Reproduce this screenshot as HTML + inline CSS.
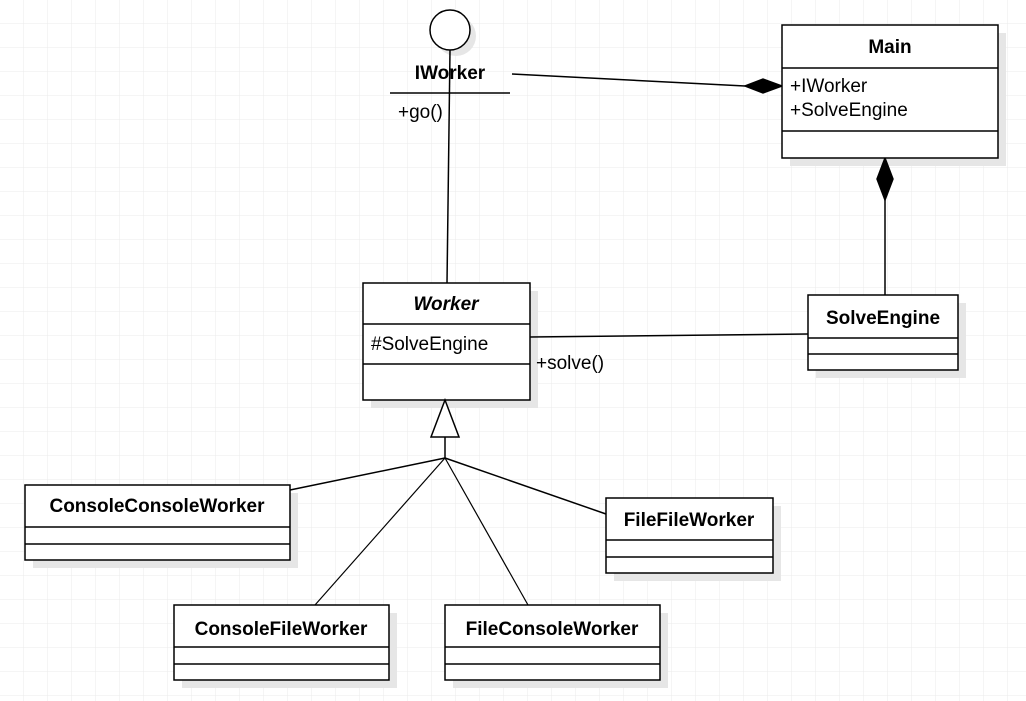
<!DOCTYPE html>
<html><head><style>
html,body{margin:0;padding:0;background:#fff;}
svg{display:block;}
text{font-family:"Liberation Sans",sans-serif;font-size:19px;fill:#000;}
.b{font-weight:bold;}
</style></head><body>
<svg width="1026" height="701" xmlns="http://www.w3.org/2000/svg">
<defs>
<pattern id="g" width="24" height="24" patternUnits="userSpaceOnUse">
<path d="M24 0V24M0 24H24" stroke="#ebebeb" stroke-width="1" fill="none"/>
</pattern>
</defs>
<rect width="1026" height="701" fill="url(#g)"/>
<g fill="#e6e6e6">
<rect x="790" y="33" width="216" height="133"/>
<rect x="816" y="303" width="150" height="75"/>
<rect x="371" y="291" width="167" height="117"/>
<rect x="33" y="493" width="265" height="75"/>
<rect x="614" y="506" width="167" height="75"/>
<rect x="182" y="613" width="215" height="75"/>
<rect x="453" y="613" width="215" height="75"/>
<circle cx="456" cy="36" r="20"/>
</g>
<g stroke="#000" stroke-width="1.5" fill="#fff">
<circle cx="450" cy="30" r="20"/>
<line x1="390" y1="93" x2="510" y2="93"/>
<line x1="450" y1="50" x2="447" y2="283"/>
<line x1="512" y1="74" x2="745" y2="86"/>
<polygon points="745,86 763,79 782,86 763,93" fill="#000"/>
<polygon points="885,158 893,179 885,200 877,179" fill="#000"/>
<line x1="885" y1="200" x2="885" y2="295"/>
<line x1="530" y1="337" x2="808" y2="334"/>
<rect x="782" y="25" width="216" height="133"/>
<line x1="782" y1="68" x2="998" y2="68"/><line x1="782" y1="131" x2="998" y2="131"/>
<rect x="808" y="295" width="150" height="75"/>
<line x1="808" y1="338" x2="958" y2="338"/><line x1="808" y1="354" x2="958" y2="354"/>
<rect x="363" y="283" width="167" height="117"/>
<line x1="363" y1="324" x2="530" y2="324"/><line x1="363" y1="364" x2="530" y2="364"/>
<polygon points="445,400 459,437 431,437"/>
<line x1="445" y1="437" x2="445" y2="458"/>
<line x1="445" y1="458" x2="290" y2="490"/>
<line x1="445" y1="458" x2="606" y2="514"/>
<line x1="445" y1="458" x2="315" y2="605" stroke-width="1.2"/>
<line x1="445" y1="458" x2="528" y2="605" stroke-width="1.2"/>
<rect x="25" y="485" width="265" height="75"/>
<line x1="25" y1="527" x2="290" y2="527"/><line x1="25" y1="544" x2="290" y2="544"/>
<rect x="606" y="498" width="167" height="75"/>
<line x1="606" y1="540" x2="773" y2="540"/><line x1="606" y1="557" x2="773" y2="557"/>
<rect x="174" y="605" width="215" height="75"/>
<line x1="174" y1="647" x2="389" y2="647"/><line x1="174" y1="664" x2="389" y2="664"/>
<rect x="445" y="605" width="215" height="75"/>
<line x1="445" y1="647" x2="660" y2="647"/><line x1="445" y1="664" x2="660" y2="664"/>
</g>
<text x="450" y="79" class="b" text-anchor="middle">IWorker</text>
<text x="398" y="118">+go()</text>
<text x="890" y="53" class="b" text-anchor="middle">Main</text>
<text x="790" y="92">+IWorker</text>
<text x="790" y="116">+SolveEngine</text>
<text x="883" y="324" class="b" text-anchor="middle">SolveEngine</text>
<text x="446" y="310" class="b" text-anchor="middle" font-style="italic">Worker</text>
<text x="371" y="350">#SolveEngine</text>
<text x="536" y="369">+solve()</text>
<text x="157" y="512" class="b" text-anchor="middle">ConsoleConsoleWorker</text>
<text x="689" y="526" class="b" text-anchor="middle">FileFileWorker</text>
<text x="281" y="635" class="b" text-anchor="middle">ConsoleFileWorker</text>
<text x="552" y="635" class="b" text-anchor="middle">FileConsoleWorker</text>
</svg>
</body></html>
